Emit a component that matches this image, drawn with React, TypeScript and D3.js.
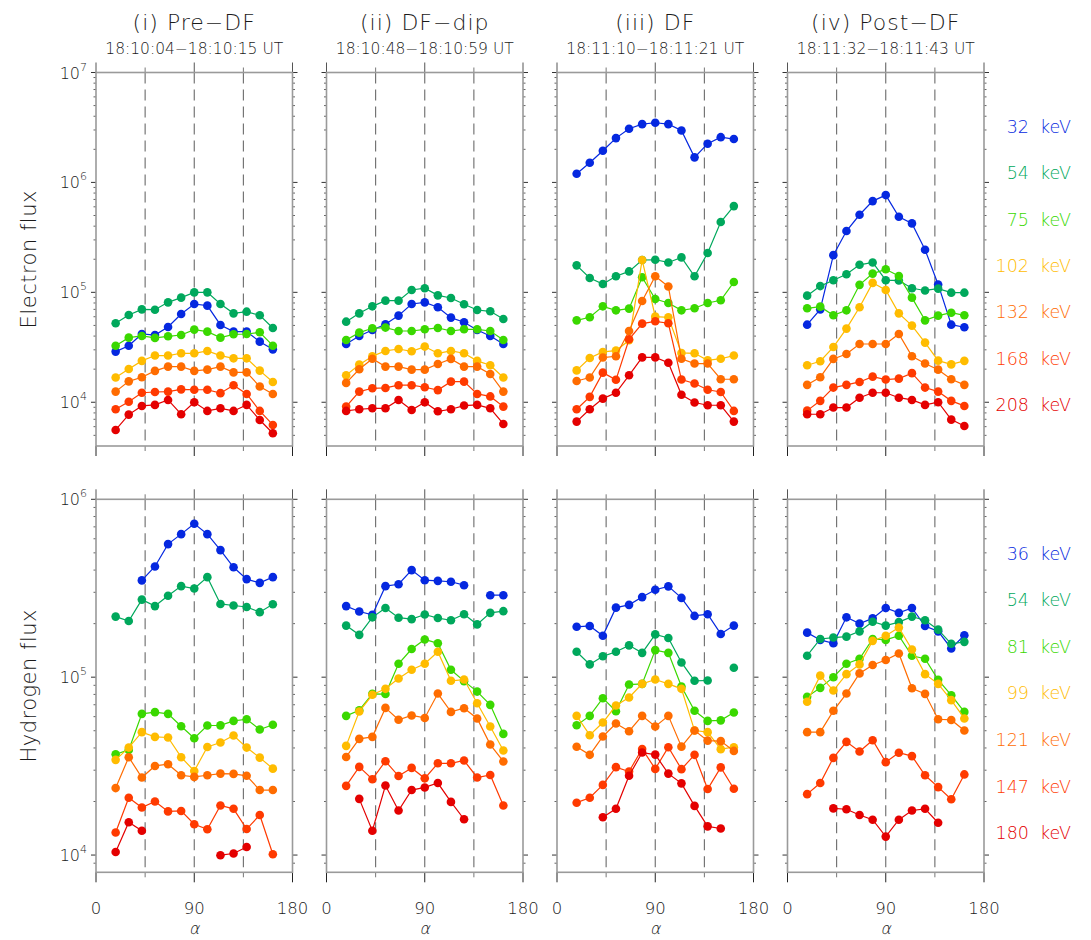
import React from "react";
import * as d3 from "d3";

// ---------------- DATA ----------------
const pitchAngles = [18, 30, 42, 54, 66, 78, 90, 102, 114, 126, 138, 150, 162];
const panelTitles = ["(i) Pre\u2212DF", "(ii) DF\u2212dip", "(iii) DF", "(iv) Post\u2212DF"];
const panelTimes = [
  "18:10:04\u221218:10:15 UT",
  "18:10:48\u221218:10:59 UT",
  "18:11:10\u221218:11:21 UT",
  "18:11:32\u221218:11:43 UT",
];
const electronEnergies = ["32", "54", "75", "102", "132", "168", "208"];
const hydrogenEnergies = ["36", "54", "81", "99", "121", "147", "180"];
const xMajorTicks = [0, 90, 180];
const xMinorTicks = [45, 135];
const dashedAngles = [45, 90, 135];
const electronDomain = [4000, 1e7];
const hydrogenDomain = [8000, 1e6];
const rowTitles = ["Electron flux", "Hydrogen flux"];

// Electron flux, one row per energy channel (32 ... 208 keV)
const elecPreDF = [
  [28900, 32700, 41800, 40900, 48400, 63500, 78300, 75700, 50500, 43900, 43900, 35600, 30300],
  [52300, 62200, 70000, 69500, 81100, 89500, 100000, 100000, 78300, 64400, 66700, 61800, 47400],
  [32700, 38700, 40100, 38500, 39800, 40900, 45800, 43900, 38700, 41500, 41800, 43300, 32700],
  [16800, 20100, 23800, 26600, 26600, 27900, 27900, 29300, 26600, 25100, 25100, 19400, 15300],
  [12500, 15500, 16900, 19300, 21100, 21100, 19300, 19800, 21100, 18700, 18700, 13900, 11900],
  [8640, 10100, 12200, 12400, 12500, 13100, 13000, 13000, 12100, 14300, 11900, 8340, 6220],
  [5600, 7720, 9260, 9460, 10500, 7780, 10000, 8340, 8810, 8340, 9460, 6900, 5220],
];
const elecDFdip = [
  [33900, 40100, 45500, 51200, 61400, 78300, 81100, 73100, 58900, 53400, 45500, 40100, 33900],
  [54100, 64400, 74600, 84000, 84000, 105000, 109000, 93900, 88800, 77800, 69100, 67200, 57200],
  [36900, 43000, 47100, 47800, 44500, 44500, 46100, 47400, 44500, 46100, 46100, 44500, 36900],
  [17600, 22000, 26200, 29300, 30500, 29100, 32100, 27900, 29300, 27900, 23800, 21700, 16800],
  [15000, 19950, 24900, 21100, 21100, 19800, 19800, 22300, 24800, 21100, 21100, 18100, 12500],
  [9130, 12500, 13400, 13500, 14300, 14300, 13700, 12900, 15400, 15400, 11900, 11300, 9130],
  [8340, 8640, 8810, 8810, 10500, 8510, 10000, 8280, 8640, 9330, 9460, 8810, 6350],
];
const elecDF = [
  [1200000, 1510000, 1940000, 2530000, 3080000, 3390000, 3490000, 3390000, 2970000, 1690000, 2250000, 2580000, 2480000],
  [176000, 135000, 119000, 140000, 155000, 197000, 198000, 187000, 208000, 140000, 228000, 436000, 609000],
  [55600, 59300, 74600, 68600, 71100, 137000, 87000, 80000, 68600, 71600, 80000, 84600, 124000],
  [19500, 25300, 28700, 29500, 36600, 197000, 60100, 59300, 28100, 27900, 24100, 24900, 26600],
  [15600, 16800, 25500, 26200, 44500, 83400, 140000, 113000, 24900, 22500, 22500, 16200, 16200],
  [8640, 11200, 18600, 16000, 37400, 51900, 54500, 52300, 16100, 14800, 13000, 12400, 8340],
  [6670, 8640, 10800, 12200, 17600, 25600, 25600, 22900, 11700, 9940, 9390, 9390, 6670],
];
const elecPostDF = [
  [50800, 70000, 218000, 361000, 508000, 676000, 767000, 487000, 424000, 244000, 118000, 50800, 48100],
  [93300, 114000, 129000, 146000, 178000, 187000, 129000, 128000, 109000, 104000, 108000, 99300, 99300],
  [71600, 74100, 61800, 68600, 117000, 148000, 162000, 141000, 89500, 55600, 61400, 65300, 61800],
  [21700, 23600, 31800, 46800, 73100, 122000, 105000, 64400, 49800, 34900, 23900, 22100, 23800],
  [14400, 16900, 24800, 27500, 33900, 33900, 33900, 41800, 26200, 22500, 19800, 16200, 14400],
  [8390, 10300, 13600, 14400, 15300, 17100, 16100, 16400, 18400, 13600, 12500, 10300, 9260],
  [7780, 7780, 8950, 8950, 11000, 12200, 12200, 11000, 10500, 9460, 10000, 6950, 6090],
];

// Hydrogen flux, one row per energy channel (36 ... 180 keV); null = no data
const hydPreDF = [
  [null, null, 350000, 419000, 560000, 637000, 728000, 637000, 518000, 415000, 356000, 339000, 365000],
  [219000, 207000, 273000, 251000, 287000, 325000, 315000, 365000, 258000, 253000, 248000, 232000, 257000],
  [36900, 39000, 62200, 63600, 62200, 53000, 45400, 53500, 53600, 56800, 58000, 50800, 54000],
  [34300, 40200, 49100, 46200, 45800, 35500, 29700, 40500, 42900, 47000, 40200, 35300, 30600],
  [23800, 35500, 27300, 31700, 32400, 28100, 27500, 28100, 28700, 28600, 27900, 23200, 23200],
  [13400, 21000, 18500, 20000, 17600, 17700, 14900, 13960, 19000, 18200, 14000, 16800, 10100],
  [10400, 15300, 13700, null, null, null, null, null, 9980, 10200, 11100, null, null],
];
const hydDFdip = [
  [251000, 234000, 224000, 325000, 333000, 400000, 351000, 348000, 344000, 329000, null, 289000, 289000],
  [195000, 173000, 217000, 245000, 216000, 212000, 225000, 215000, 209000, 226000, 198000, 230000, 235000],
  [60600, 65200, 80600, 80400, 119000, 144000, 163000, 155000, 110000, 95000, 83000, 69900, 48000],
  [41100, 64100, 79600, 86000, 98400, 110000, 119000, 139000, 95400, 97000, 71400, 52800, 38700],
  [35600, 45000, 46200, 67200, 57600, 60900, 59000, 80900, 63800, 66900, 58600, 41800, 33600],
  [24500, 31300, 26700, 33700, 27800, 30900, 27000, 32800, 32800, 34000, 27300, 28200, 19000],
  [null, 20700, 13700, 24600, 17800, 23200, 24000, 25400, 19900, 15900, null, null, null],
];
const hydDF = [
  [192000, 194000, 171000, 246000, 255000, 282000, 310000, 324000, 279000, 221000, 226000, 175000, 195000],
  [139000, 118000, 131000, 139000, 151000, 137000, 174000, 166000, 121000, 95400, 95800, null, 113000],
  [53700, 60600, 76200, 64400, 90900, 91700, 142000, 137000, 88700, 64700, 56800, 57200, 63300],
  [60600, 47200, 55600, 69300, 76900, 91700, 97000, 91700, 86000, 50100, 49100, 39400, 40400],
  [40600, 36600, 46400, 54900, 49700, 60600, 52800, 60600, 40700, 50100, 44000, 43700, 38500],
  [19700, 21000, 24800, 31200, 29500, 39500, 30500, 40400, 30400, 36600, 23500, 31100, 23600],
  [null, null, 16300, 18200, 27900, 37700, 36700, 28700, 25300, 18900, 14500, 14100, null],
];
const hydPostDF = [
  [178000, 162000, 155000, 217000, 200000, 214000, 245000, 230000, 245000, 194000, 181000, 145000, 172000],
  [132000, 164000, 167000, 169000, 181000, 205000, 195000, 204000, 219000, 209000, 185000, 154000, 158000],
  [77500, 87100, 100000, 119000, 127000, 164000, 162000, 171000, 132000, 127000, 96600, 79200, 63800],
  [72700, 102000, 84100, 104000, 118000, 160000, 171000, 190000, 143000, 104000, 91700, 74300, 58600],
  [49100, 49100, 64700, 80900, 105000, 117000, 125000, 136000, 86700, 80600, 58000, 57500, 50100],
  [22000, 25400, 35200, 43300, 38200, 44200, 33300, 37600, 36000, 28100, 24100, 20600, 28400],
  [null, null, 18300, 18100, 16800, 15800, 12700, 15800, 17800, 18200, 15200, null, null],
];

// ---------------- STYLE / LAYOUT ----------------
const seriesColors = ["#0528e0", "#00a85c", "#3ad800", "#ffbc00", "#ff6c00", "#ff3a00", "#e40000"];
const FONT = "'DejaVu Sans', 'Liberation Sans', sans-serif";
const TEXT = "#1a1a1a";
const W = 1091;
const H = 940;
const PANEL_X0 = 96;
const PANEL_STEP = 230.5;
const PANEL_W = 196.5;
const ROWS = [
  { top: 72.5, bottom: 446, domain: electronDomain, data: [elecPreDF, elecDFdip, elecDF, elecPostDF], energies: electronEnergies, legendY0: 127, legendStep: 46.3 },
  { top: 499.3, bottom: 872.3, domain: hydrogenDomain, data: [hydPreDF, hydDFdip, hydDF, hydPostDF], energies: hydrogenEnergies, legendY0: 553.5, legendStep: 46.6 },
];
const FRAME = "#9a9a9a";

function Panel({ rowIdx, p }: { rowIdx: number; p: number }) {
  const row = ROWS[rowIdx];
  const x0 = PANEL_X0 + p * PANEL_STEP;
  const x = d3.scaleLinear().domain([0, 180]).range([x0, x0 + PANEL_W]);
  const y = d3.scaleLog().domain(row.domain).range([row.bottom, row.top]);
  const lo = Math.floor(Math.log10(row.domain[0]));
  const hi = Math.ceil(Math.log10(row.domain[1]));
  const majors: number[] = [];
  const minors: number[] = [];
  for (let d = lo; d <= hi; d++) {
    const v = Math.pow(10, d);
    if (v >= row.domain[0] * 0.999 && v <= row.domain[1] * 1.001) majors.push(v);
    for (let m = 2; m <= 9; m++) {
      const mv = m * v;
      if (mv > row.domain[0] && mv < row.domain[1]) minors.push(mv);
    }
  }
  const line = d3
    .line<[number, number | null]>()
    .defined((d) => d[1] != null)
    .x((d) => x(d[0]))
    .y((d) => y(d[1] as number));
  const series = row.data[p];
  return (
    <g>
      {dashedAngles.map((a) => (
        <line key={"d" + a} x1={x(a)} x2={x(a)} y1={row.top} y2={row.bottom} stroke="#6a6a6a" strokeWidth={1.1} strokeDasharray="11,6" />
      ))}
      {[x0, x0 + PANEL_W].map((ax, side) => (
        <g key={"yt" + side}>
          {majors.map((v) => (
            <line key={"M" + v} x1={ax} x2={side === 0 ? ax - 5 : ax + 5} y1={y(v)} y2={y(v)} stroke="#333" strokeWidth={1} />
          ))}
          {minors.map((v) => (
            <line key={"m" + v} x1={ax} x2={side === 0 ? ax - 2.5 : ax + 2.5} y1={y(v)} y2={y(v)} stroke="#555" strokeWidth={0.9} />
          ))}
        </g>
      ))}
      {xMajorTicks.map((t) => (
        <g key={"xt" + t}>
          <line x1={x(t)} x2={x(t)} y1={row.top} y2={row.top - 10} stroke="#555" strokeWidth={1} />
          <line x1={x(t)} x2={x(t)} y1={row.bottom} y2={row.bottom + 10} stroke="#222" strokeWidth={1} />
        </g>
      ))}
      {xMinorTicks.map((t) => (
        <g key={"xm" + t}>
          <line x1={x(t)} x2={x(t)} y1={row.top} y2={row.top - 5} stroke="#777" strokeWidth={1} />
          <line x1={x(t)} x2={x(t)} y1={row.bottom} y2={row.bottom + 5} stroke="#777" strokeWidth={1} />
        </g>
      ))}
      <rect x={x0} y={row.top} width={PANEL_W} height={row.bottom - row.top} fill="none" stroke={FRAME} strokeWidth={1.6} />
      {series.map((vals, si) => {
        const pts = pitchAngles.map((a, i) => [a, vals[i]] as [number, number | null]);
        return (
          <g key={"s" + si}>
            <path d={line(pts) || ""} fill="none" stroke={seriesColors[si]} strokeWidth={1.2} />
            {pts
              .filter((d) => d[1] != null)
              .map((d, i) => (
                <circle key={i} cx={x(d[0])} cy={y(d[1] as number)} r={4.3} fill={seriesColors[si]} />
              ))}
          </g>
        );
      })}
      {p === 0 &&
        majors.map((v) => (
          <text key={"yl" + v} x={x0 - 9} y={y(v) + 6} textAnchor="end" fontFamily={FONT} fontSize={16} fontWeight={300} fill={TEXT}>
            10
            <tspan dy={-8} fontSize={11}>
              {Math.round(Math.log10(v))}
            </tspan>
          </text>
        ))}
      {rowIdx === 1 &&
        xMajorTicks.map((t) => (
          <text key={"xl" + t} x={x(t)} y={914} textAnchor="middle" fontFamily={FONT} fontSize={16.5} fontWeight={300} fill={TEXT}>
            {t}
          </text>
        ))}
      {rowIdx === 1 && (
        <text
          transform={`translate(${x(90)},934) skewX(-12)`}
          textAnchor="middle"
          fontFamily={FONT}
          fontSize={16}
          fontWeight={300}
          fill={TEXT}
        >
          {"\u03b1"}
        </text>
      )}
      {rowIdx === 0 && (
        <g>
          <text x={x(90)} y={30} textAnchor="middle" fontFamily={FONT} fontSize={22} fontWeight={300} fill={TEXT} letterSpacing={1}>
            {panelTitles[p]}
          </text>
          <text x={x(90)} y={54} textAnchor="middle" fontFamily={FONT} fontSize={15.5} fontWeight={300} fill={TEXT}>
            {panelTimes[p]}
          </text>
        </g>
      )}
    </g>
  );
}

export default function App() {
  return (
    <svg width={W} height={H} style={{ position: "absolute", left: 0, top: 0, display: "block", background: "#fff" }}>
      <rect x={0} y={0} width={W} height={H} fill="#fff" />
      {ROWS.map((row, r) => (
        <g key={"row" + r}>
          {[0, 1, 2, 3].map((p) => (
            <Panel key={p} rowIdx={r} p={p} />
          ))}
          <text
            transform={`translate(36,${(row.top + row.bottom) / 2}) rotate(-90)`}
            textAnchor="middle"
            fontFamily={FONT}
            fontSize={21}
            fontWeight={300}
            fill={TEXT}
            letterSpacing={0.5}
          >
            {rowTitles[r]}
          </text>
          {row.energies.map((e, i) => (
            <text
              key={"lg" + i}
              x={1071}
              y={row.legendY0 + i * row.legendStep}
              dy="0.35em"
              textAnchor="end"
              fontFamily={FONT}
              fontSize={17.5}
              fontWeight={300}
              fill={seriesColors[i]}
              style={{ whiteSpace: "pre" }}
            >
              {e + "  keV"}
            </text>
          ))}
        </g>
      ))}
    </svg>
  );
}
